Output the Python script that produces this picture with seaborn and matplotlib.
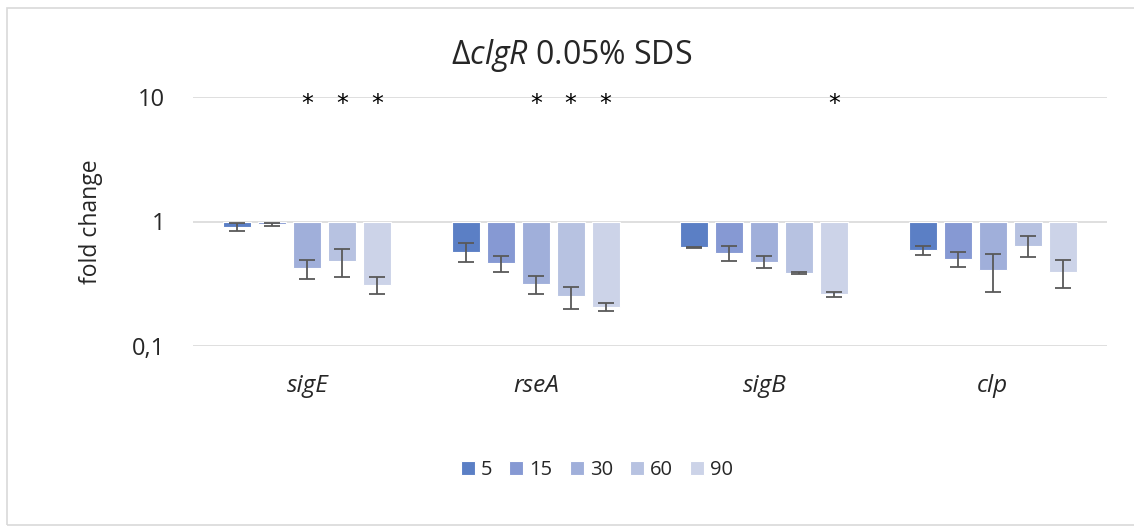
import matplotlib
matplotlib.use("Agg")
import matplotlib.pyplot as plt
import seaborn as sns
import pandas as pd
from matplotlib.patches import Rectangle
from matplotlib.ticker import FixedLocator, NullLocator

genes = ["sigE", "rseA", "sigB", "clp"]
times = ["5", "15", "30", "60", "90"]
# fold change per time point for each gene
fc_5 = [0.91, 0.57, 0.62, 0.59]
fc_15 = [0.95, 0.46, 0.56, 0.50]
fc_30 = [0.42, 0.315, 0.475, 0.41]
fc_60 = [0.48, 0.25, 0.385, 0.64]
fc_90 = [0.31, 0.205, 0.26, 0.39]
err_5 = [0.07, 0.10, 0.005, 0.05]
err_15 = [0.03, 0.07, 0.08, 0.067]
err_30 = [0.075, 0.052, 0.055, 0.14]
err_60 = [0.12, 0.05, 0.005, 0.12]
err_90 = [0.05, 0.015, 0.012, 0.10]
# significance stars (gene, time)
stars = [("sigE", "30"), ("sigE", "60"), ("sigE", "90"),
         ("rseA", "30"), ("rseA", "60"), ("rseA", "90"),
         ("sigB", "90")]
title = "$\\Delta$$\\it{clgR}$ 0.05% SDS"
ylabel = "fold change"
ytick_labels = ["0,1", "1", "10"]
colors = ["#5B7FC5", "#8699D3", "#A0AFDA", "#B7C2E1", "#CCD3E8"]

fcs = [fc_5, fc_15, fc_30, fc_60, fc_90]
errs = [err_5, err_15, err_30, err_60, err_90]
rows = []
for t, f, e in zip(times, fcs, errs):
    for g, v, ev in zip(genes, f, e):
        rows.append({"gene": g, "time": t, "fc": v, "err": ev})
df = pd.DataFrame(rows)

sns.set_theme(style="white")
FONT = "Open Sans"
plt.rcParams["font.family"] = [FONT, "DejaVu Sans"]
plt.rcParams["mathtext.fontset"] = "custom"
plt.rcParams["mathtext.it"] = FONT + ":italic"
plt.rcParams["mathtext.rm"] = FONT

TXT = "#262626"
fig = plt.figure(figsize=(11.34, 5.32), dpi=100)
ax = fig.add_axes([193 / 1134, 1 - 346 / 532, (1107 - 193) / 1134, (346 - 97) / 532])

sns.barplot(data=df, x="gene", y="fc", hue="time", order=genes, hue_order=times,
            palette=colors, saturation=1, errorbar=None, width=0.765, gap=0.2,
            edgecolor="white", linewidth=0.8, ax=ax)

centers = {}
for t, cont in zip(times, ax.containers):
    for g, patch in zip(genes, cont.patches):
        v = patch.get_height()
        patch.set_y(v)
        patch.set_height(1 - v)
        centers[(g, t)] = patch.get_x() + patch.get_width() / 2

ax.set_yscale("log")
ax.set_ylim(0.1, 10)
ax.set_xlim(-0.5, 3.5)

for _, r in df.iterrows():
    ax.errorbar(centers[(r.gene, r.time)], r.fc, yerr=r.err, fmt="none",
                ecolor="#595959", elinewidth=1.3, capsize=6, capthick=1.3, zorder=5)

for g, t in stars:
    ax.annotate("*", xy=(centers[(g, t)], 10), xytext=(0, -7), textcoords="offset pixels",
                ha="center", va="center", fontsize=17, color="black",
                family="DejaVu Sans", zorder=6, annotation_clip=False)

ax.yaxis.set_major_locator(FixedLocator([0.1, 1, 10]))
ax.yaxis.set_minor_locator(NullLocator())
ax.set_yticklabels(ytick_labels, fontsize=17, color=TXT)
ax.tick_params(axis="y", length=0, pad=20)
ax.set_xticks(range(len(genes)))
ax.set_xticklabels(genes, fontsize=17.5, style="italic", color=TXT)
ax.tick_params(axis="x", length=0, pad=20)
ax.grid(axis="y", color="#D9D9D9", linewidth=1.2, zorder=0)
ax.set_axisbelow(True)
for s in ax.spines.values():
    s.set_visible(False)
ax.set_xlabel("")
ax.set_ylabel(ylabel, fontsize=16.5, color=TXT)
ax.yaxis.set_label_coords((103 - 193) / 914, 0.5)

fig.text(0.504, 1 - 55 / 532, title, ha="center", va="center", fontsize=23, color=TXT)

handles, labels = ax.get_legend_handles_labels()
if ax.legend_:
    ax.legend_.remove()
fig.legend(handles, labels, loc="center", bbox_to_anchor=(597 / 1134, 1 - 470 / 532),
           ncol=5, frameon=False, fontsize=14.5, handlelength=0.7, handleheight=0.7,
           handletextpad=0.3, columnspacing=0.85, labelcolor=TXT)

fig.patches.append(Rectangle((7 / 1134, 7 / 532), 1.1, 1 - 15 / 532, transform=fig.transFigure,
                             fill=False, edgecolor="#D9D9D9", linewidth=1.2))

fig.savefig("out.png", dpi=100)
